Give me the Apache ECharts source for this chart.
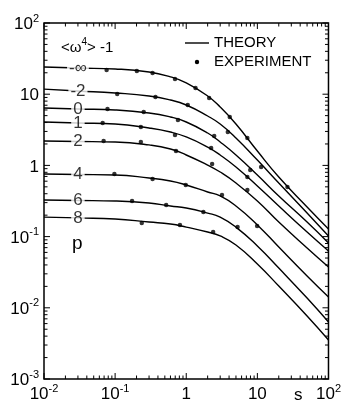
<!DOCTYPE html>
<html>
<head>
<meta charset="utf-8">
<script src="https://cdn.jsdelivr.net/npm/echarts@6/dist/echarts.min.js"></script>
<style>
  html, body { margin: 0; padding: 0; background: #fff; }
  #chart { width: 344px; height: 404px; }
</style>
</head>
<body>
<div id="chart"></div>
<script>
// Abscissae (s) at which each theoretical curve is sampled
const sGrid = [0.01, 0.03, 0.1, 0.3, 0.6, 1, 2, 3, 5, 10, 20, 50, 100];

// Theoretical p(s), one array per value of <ω⁴>-1
const pInf = [24.1, 23.3, 22.6, 20.5, 17.5, 14.4, 9.44, 6.61, 3.81, 1.59, 0.687, 0.261, 0.128];
const pM2  = [11.8, 11.1, 10.4, 9.44, 8.29, 7.05, 4.94, 3.81, 2.43, 1.19, 0.566, 0.214, 0.102];
const p0   = [6.40, 6.19, 6.00, 5.45, 4.79, 4.07, 2.85, 2.13, 1.40, 0.733, 0.372, 0.160, 0.0813];
const p1   = [4.07, 3.94, 3.81, 3.35, 2.94, 2.51, 1.81, 1.40, 0.950, 0.514, 0.269, 0.116, 0.0628];
const p2   = [2.20, 2.17, 2.13, 1.94, 1.70, 1.40, 1.01, 0.807, 0.566, 0.316, 0.160, 0.0692, 0.0374];
const p4   = [0.757, 0.745, 0.733, 0.665, 0.604, 0.531, 0.423, 0.372, 0.269, 0.146, 0.0714, 0.0280, 0.0142];
const p6   = [0.327, 0.322, 0.316, 0.296, 0.269, 0.252, 0.214, 0.188, 0.136, 0.0738, 0.0362, 0.0137, 0.00632];
const p8   = [0.188, 0.183, 0.177, 0.160, 0.150, 0.136, 0.116, 0.102, 0.0762, 0.0412, 0.0202, 0.00767, 0.00353];

// Curve labels (value of <ω⁴>-1)
const curveNames = ['-\u221E', '-2', '0', '1', '2', '4', '6', '8'];

// Measured points [s, p]
const eInf = [[0.0759, 21.9], [0.202, 21.2], [0.336, 19.9], [0.695, 16.3], [1.35, 12.2], [2.10, 8.85], [4.09, 4.79], [7.23, 2.43], [26.5, 0.498]];
const eM2  = [[0.107, 10.1], [0.369, 9.14], [1.05, 7.05], [3.84, 2.94], [11.3, 0.950]];
const e0   = [[0.0781, 6.19], [0.252, 5.62], [0.764, 4.34], [2.47, 2.59], [7.94, 0.861]];
const e1   = [[0.0668, 3.94], [0.230, 3.46], [0.695, 2.67], [2.24, 1.75], [7.23, 0.687]];
const e2   = [[0.0689, 2.20], [0.230, 2.13], [0.718, 1.59], [2.31, 1.05], [7.23, 0.451]];
const e4   = [[0.0977, 0.757], [0.336, 0.644], [0.984, 0.531], [3.18, 0.384], [9.93, 0.141]];
const e6   = [[0.173, 0.316], [0.522, 0.278], [1.74, 0.221], [5.27, 0.136]];
const e8   = [[0.237, 0.155], [0.815, 0.146], [2.39, 0.116]];

// Axis ranges (decades)
const xRange = [0.01, 100];
const yRange = [0.001, 100];

const curves = [pInf, pM2, p0, p1, p2, p4, p6, p8];
const experiments = [eInf, eM2, e0, e1, e2, e4, e6, e8];
const labelIndex = 1; // curve labels sit on the s = 0.03 sample

const FONT = 'Liberation Sans, Arial, sans-serif';

// Decade tick positions with the 2..9 minors between them
function logTicks(lo, hi) {
  const out = [];
  for (let e = Math.round(Math.log10(lo)); e <= Math.round(Math.log10(hi)); e++) {
    const base = Math.pow(10, e);
    out.push([base, 1, 1]);
    if (base < hi) for (let m = 2; m <= 9; m++) out.push([m * base, 1, 0]);
  }
  return out;
}
const xTicks = logTicks(xRange[0], xRange[1]);
const yTicks = logTicks(yRange[0], yRange[1]).map(t => [1, t[0], t[2]]);

function powLabel(v) {
  const e = Math.round(Math.log10(v));
  if (e === 0) return '{b|1}';
  if (e === 1) return '{b|10}';
  return '{b|10}{s|' + (e < 0 ? '-' + (-e) : e) + '}';
}
const labelRich = {
  b: { fontSize: 17, fontFamily: FONT, color: '#000', lineHeight: 20, verticalAlign: 'bottom' },
  s: { fontSize: 11, fontFamily: FONT, color: '#000', lineHeight: 12, verticalAlign: 'top' }
};

const MAJOR = 6, MINOR = 3.5;
function tickLine(x1, y1, x2, y2) {
  return { type: 'line', shape: { x1, y1, x2, y2 }, style: { stroke: '#000', lineWidth: 1 } };
}

const series = [];
curves.forEach((arr, i) => {
  series.push({
    type: 'line', name: 'THEORY', silent: true, z: 2,
    data: sGrid.map((s, k) => [s, arr[k]]),
    smooth: 0.5, symbol: 'none',
    lineStyle: { color: '#000', width: 1.4 }
  });
});
experiments.forEach(pts => {
  series.push({
    type: 'scatter', name: 'EXPERIMENT', silent: true, z: 4,
    data: pts, symbolSize: 4.5, itemStyle: { color: '#000' }
  });
});
// curve labels: white boxes that interrupt each line
series.push({
  type: 'scatter', silent: true, z: 5,
  data: curves.map((arr, i) => ({ value: [sGrid[labelIndex], arr[labelIndex]], name: curveNames[i] })),
  symbolSize: 1, itemStyle: { color: 'rgba(0,0,0,0)' },
  label: {
    show: true, position: 'inside', formatter: '{b}',
    fontSize: 17, fontFamily: FONT, color: '#000',
    backgroundColor: '#fff', padding: [0, 2]
  }
});
// tick marks on all four sides of the frame
series.push({
  type: 'custom', silent: true, z: 6, clip: false,
  data: xTicks,
  renderItem: function (params, api) {
    const v = api.value(0);
    const len = api.value(2) ? MAJOR : MINOR;
    const b = api.coord([v, yRange[0]]);
    const t = api.coord([v, yRange[1]]);
    return { type: 'group', children: [
      tickLine(b[0], b[1], b[0], b[1] - len),
      tickLine(t[0], t[1], t[0], t[1] + len)
    ] };
  }
});
series.push({
  type: 'custom', silent: true, z: 6, clip: false,
  data: yTicks,
  renderItem: function (params, api) {
    const v = api.value(1);
    const len = api.value(2) ? MAJOR : MINOR;
    const l = api.coord([xRange[0], v]);
    const r = api.coord([xRange[1], v]);
    return { type: 'group', children: [
      tickLine(l[0], l[1], l[0] + len, l[1]),
      tickLine(r[0], r[1], r[0] - len, r[1])
    ] };
  }
});

const chart = echarts.init(document.getElementById('chart'), null, { renderer: 'canvas' });
chart.setOption({
  animation: false,
  backgroundColor: '#fff',
  grid: { left: 44, right: 9, top: 23, bottom: 25, show: true, borderColor: '#000', borderWidth: 1.5 },
  xAxis: {
    type: 'log', logBase: 10, min: xRange[0], max: xRange[1],
    axisLine: { show: false }, axisTick: { show: false }, splitLine: { show: false },
    axisLabel: { margin: 4, formatter: powLabel, rich: labelRich, showMinLabel: true, showMaxLabel: true }
  },
  yAxis: {
    type: 'log', logBase: 10, min: yRange[0], max: yRange[1],
    axisLine: { show: false }, axisTick: { show: false }, splitLine: { show: false },
    axisLabel: { margin: 5, formatter: powLabel, rich: labelRich, showMinLabel: true, showMaxLabel: true }
  },
  series: series,
  graphic: [
    { type: 'text', left: 61, top: 37, silent: true,
      style: { text: '{a|<\u03C9}{s|4}{a|> -1}', rich: {
        a: { fontSize: 15, fontFamily: FONT, fill: '#000', lineHeight: 18, verticalAlign: 'bottom' },
        s: { fontSize: 10, fontFamily: FONT, fill: '#000', lineHeight: 10, verticalAlign: 'top' } } } },
    { type: 'text', left: 72, top: 234, silent: true,
      style: { text: 'p', fontSize: 19, fontFamily: FONT, fill: '#000' } },
    { type: 'text', left: 294, top: 387, silent: true,
      style: { text: 's', fontSize: 17, fontFamily: FONT, fill: '#000' } },
    { type: 'line', silent: true, shape: { x1: 185, y1: 43, x2: 209, y2: 43 }, style: { stroke: '#000', lineWidth: 1.4 } },
    { type: 'text', left: 214, top: 35, silent: true,
      style: { text: 'THEORY', fontSize: 15, fontFamily: FONT, fill: '#000' } },
    { type: 'circle', silent: true, shape: { cx: 197, cy: 62, r: 2.2 }, style: { fill: '#000' } },
    { type: 'text', left: 214, top: 54, silent: true,
      style: { text: 'EXPERIMENT', fontSize: 15, fontFamily: FONT, fill: '#000' } }
  ]
});
</script>
</body>
</html>
